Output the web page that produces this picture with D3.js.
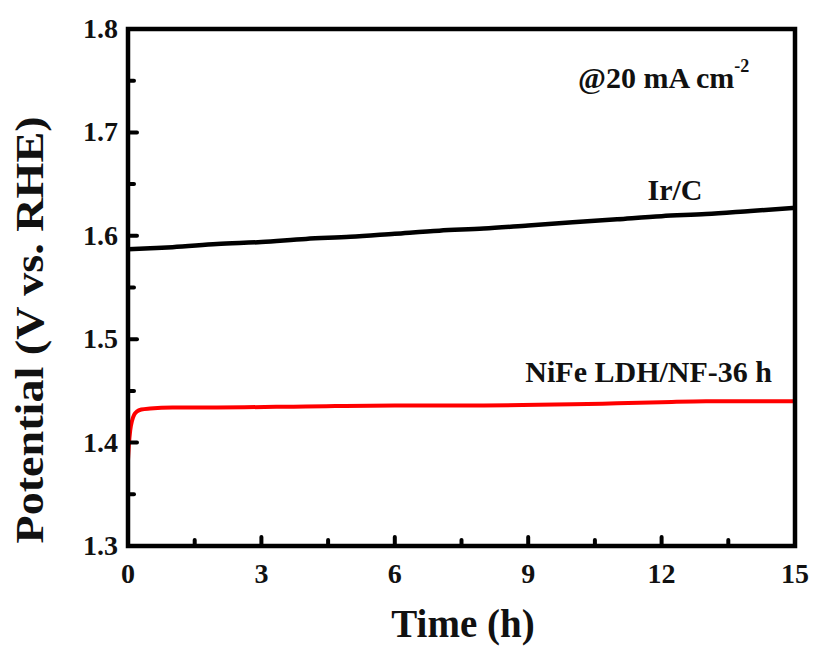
<!DOCTYPE html>
<html>
<head>
<meta charset="utf-8">
<script src="https://cdn.jsdelivr.net/npm/d3@7"></script>
<style>
  body { margin: 0; background: #fff; }
  text { font-family: "Liberation Serif", "Times New Roman", serif; font-weight: bold; fill: #111; }
</style>
</head>
<body>
<svg id="chart" width="814" height="651"></svg>
<script>
// values: [time (h), potential (V vs. RHE)]
const irC = [[0, 1.587], [0.5, 1.588], [1, 1.589], [2, 1.592], [3, 1.594], [4, 1.597], [5, 1.599],
  [6, 1.602], [7, 1.605], [8, 1.607], [9, 1.610], [10, 1.613], [11, 1.616], [12, 1.619],
  [13, 1.621], [14, 1.624], [15, 1.627]]
const nife = [[0, 1.383], [0.02, 1.398], [0.05, 1.412], [0.09, 1.421], [0.14, 1.427], [0.2, 1.430],
  [0.3, 1.432], [0.5, 1.433], [1, 1.434], [2, 1.434], [4, 1.435], [6, 1.436], [8, 1.436],
  [10, 1.437], [11, 1.438], [12, 1.439], [13, 1.440], [14, 1.440], [15, 1.440]]
const xTicks = [0, 3, 6, 9, 12, 15]
const xMinor = [1.5, 4.5, 7.5, 10.5, 13.5]
const yTicks = [1.3, 1.4, 1.5, 1.6, 1.7, 1.8]
const yMinor = [1.35, 1.45, 1.55, 1.65, 1.75]

const svg = d3.select('#chart')
const margin = {left: 128, right: 19, top: 29, bottom: 105}
const W = 814, H = 651

const x = d3.scaleLinear().domain([0, 15]).range([margin.left, W - margin.right])
const y = d3.scaleLinear().domain([1.3, 1.8]).range([H - margin.bottom, margin.top])

const line = d3.line().x(d => x(d[0])).y(d => y(d[1])).curve(d3.curveMonotoneX)

svg.append('path').datum(irC)
    .attr('d', line).attr('fill', 'none')
    .attr('stroke', '#000').attr('stroke-width', 4.5)

svg.append('path').datum(nife)
    .attr('d', line).attr('fill', 'none')
    .attr('stroke', '#f00').attr('stroke-width', 4)

// ticks (inside)
const bottom = y(1.3), left = x(0)
function ticks(g, scale, vals, len, horizontal) {
    g.selectAll('line').data(vals).enter().append('line')
        .attr('x1', d => horizontal ? scale(d) : left)
        .attr('x2', d => horizontal ? scale(d) : left + len)
        .attr('y1', d => horizontal ? bottom : scale(d))
        .attr('y2', d => horizontal ? bottom - len : scale(d))
        .attr('stroke', '#000').attr('stroke-width', 4).attr('stroke-linecap', 'round')
}
ticks(svg.append('g'), x, xTicks.slice(1, -1), 9, true)
ticks(svg.append('g'), x, xMinor, 6, true)
ticks(svg.append('g'), y, yTicks.slice(1, -1), 9, false)
ticks(svg.append('g'), y, yMinor, 6, false)

// frame
svg.append('rect')
    .attr('x', x(0)).attr('y', y(1.8))
    .attr('width', x(15) - x(0)).attr('height', y(1.3) - y(1.8))
    .attr('fill', 'none').attr('stroke', '#000').attr('stroke-width', 4.5)

// tick labels
svg.append('g').selectAll('text').data(xTicks).enter().append('text')
    .attr('x', d => x(d)).attr('y', bottom + 37)
    .attr('text-anchor', 'middle').style('font-size', '28px')
    .text(d => d)

svg.append('g').selectAll('text').data(yTicks).enter().append('text')
    .attr('x', left - 10).attr('y', d => y(d) + 9)
    .attr('text-anchor', 'end').style('font-size', '28px')
    .text(d => d.toFixed(1))

// axis titles
svg.append('text')
    .attr('x', 463).attr('y', 637)
    .attr('text-anchor', 'middle').style('font-size', '39px')
    .text('Time (h)')

svg.append('text')
    .attr('transform', 'translate(43,330) rotate(-90)')
    .attr('text-anchor', 'middle').style('font-size', '39px')
    .attr('textLength', 427).attr('lengthAdjust', 'spacingAndGlyphs')
    .text('Potential (V vs. RHE)')

// annotations
const note = svg.append('text')
    .attr('x', 578).attr('y', 88).style('font-size', '30px')
note.append('tspan').text('@20 mA cm')
note.append('tspan').attr('dy', -16).style('font-size', '18px').text('-2')

svg.append('text')
    .attr('x', 675).attr('y', 200).attr('text-anchor', 'middle')
    .style('font-size', '30px').text('Ir/C')

svg.append('text')
    .attr('x', 772).attr('y', 382).attr('text-anchor', 'end')
    .style('font-size', '30px').text('NiFe LDH/NF-36 h')
</script>
</body>
</html>
